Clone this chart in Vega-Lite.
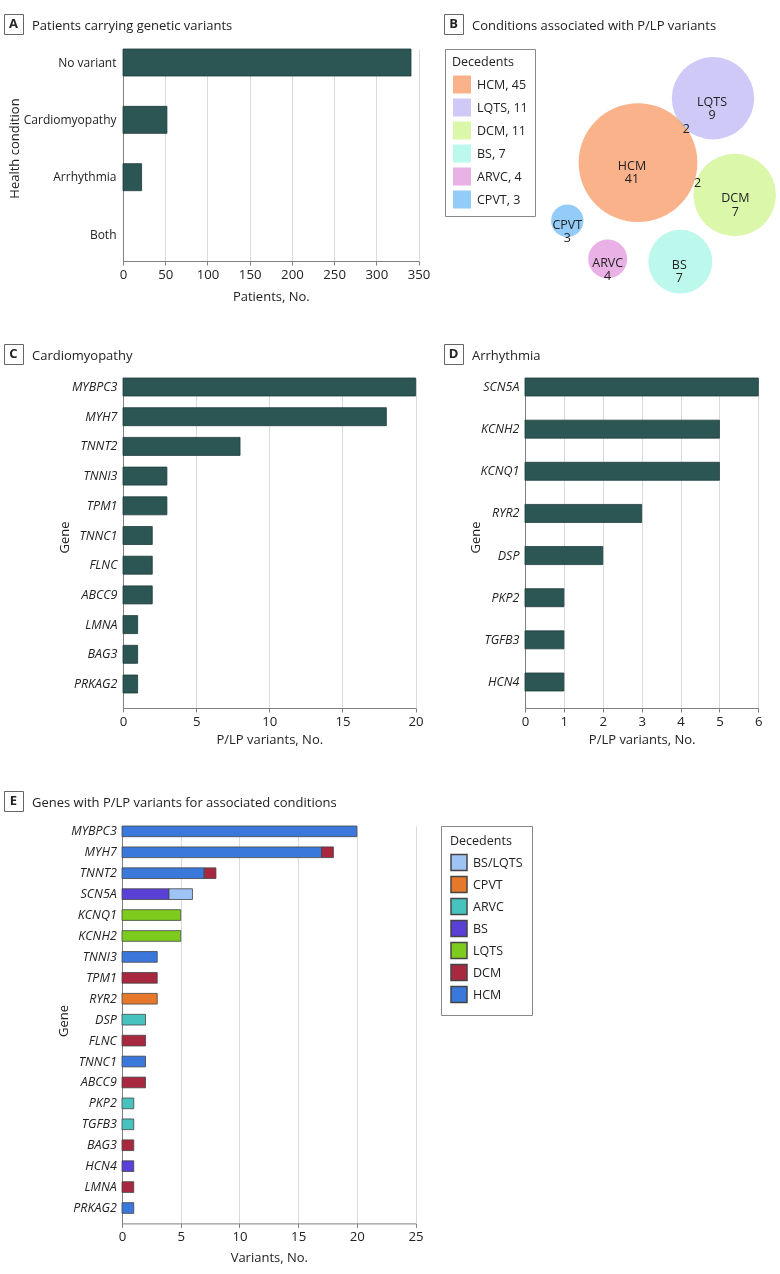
{
  "$schema": "https://vega.github.io/schema/vega-lite/v6.json",
  "padding": {"left": 3, "top": 13, "right": 0, "bottom": 4},
  "background": "white",
  "spacing": 10,
  "resolve": {"scale": {"color": "independent", "size": "independent"}, "legend": {"color": "independent", "size": "independent"}},
  "config": {
    "font": "Open Sans",
    "view": {"stroke": null},
    "axis": {
      "labelFont": "Open Sans", "titleFont": "Open Sans",
      "labelFontSize": 13.2, "titleFontSize": 13, "titleFontWeight": "normal",
      "labelColor": "#222", "titleColor": "#222",
      "domainColor": "#808080", "tickColor": "#808080", "gridColor": "#dadada",
      "labelFlush": false, "labelOverlap": false
    },
    "legend": {
      "labelFont": "Open Sans", "titleFont": "Open Sans",
      "labelFontSize": 12.5, "titleFontSize": 12.5, "titleFontWeight": "normal",
      "labelColor": "#222", "titleColor": "#222",
      "strokeColor": "#888", "fillColor": "white", "symbolType": "square"
    },
    "title": {"font": "Open Sans", "color": "#222", "fontWeight": "normal"}
  },
  "datasets": {
    "patients": [
      {"condition": "No variant", "patients": 341},
      {"condition": "Cardiomyopathy", "patients": 52},
      {"condition": "Arrhythmia", "patients": 22},
      {"condition": "Both", "patients": 0}
    ],
    "bubbles": [
      {"decedents": "HCM, 45", "total": 45, "cx": 193, "cy": 113.7, "label": "HCM\n41", "lx": 187, "ly": 116.7},
      {"decedents": "LQTS, 11", "total": 11, "cx": 268, "cy": 49.3, "label": "LQTS\n9", "lx": 267, "ly": 52.7},
      {"decedents": "DCM, 11", "total": 11, "cx": 289.7, "cy": 146, "label": "DCM\n7", "lx": 290.3, "ly": 149},
      {"decedents": "BS, 7", "total": 7, "cx": 235.3, "cy": 212.7, "label": "BS\n7", "lx": 234.3, "ly": 215.5},
      {"decedents": "ARVC, 4", "total": 4, "cx": 162.7, "cy": 210, "label": "ARVC\n4", "lx": 162.7, "ly": 213.7},
      {"decedents": "CPVT, 3", "total": 3, "cx": 122.3, "cy": 171.7, "label": "CPVT\n3", "lx": 122.3, "ly": 175.8}
    ],
    "overlaps": [
      {"n": "2", "x": 241.3, "y": 80.3},
      {"n": "2", "x": 252.7, "y": 133.7}
    ],
    "cardio": [
      {"gene": "MYBPC3", "n": 20}, {"gene": "MYH7", "n": 18}, {"gene": "TNNT2", "n": 8},
      {"gene": "TNNI3", "n": 3}, {"gene": "TPM1", "n": 3}, {"gene": "TNNC1", "n": 2},
      {"gene": "FLNC", "n": 2}, {"gene": "ABCC9", "n": 2}, {"gene": "LMNA", "n": 1},
      {"gene": "BAG3", "n": 1}, {"gene": "PRKAG2", "n": 1}
    ],
    "arrhythmia": [
      {"gene": "SCN5A", "n": 6}, {"gene": "KCNH2", "n": 5}, {"gene": "KCNQ1", "n": 5},
      {"gene": "RYR2", "n": 3}, {"gene": "DSP", "n": 2}, {"gene": "PKP2", "n": 1},
      {"gene": "TGFB3", "n": 1}, {"gene": "HCN4", "n": 1}
    ],
    "genes": [
      {"gene": "MYBPC3", "condition": "HCM", "variants": 20},
      {"gene": "MYH7", "condition": "HCM", "variants": 17},
      {"gene": "MYH7", "condition": "DCM", "variants": 1},
      {"gene": "TNNT2", "condition": "HCM", "variants": 7},
      {"gene": "TNNT2", "condition": "DCM", "variants": 1},
      {"gene": "SCN5A", "condition": "BS", "variants": 4},
      {"gene": "SCN5A", "condition": "BS/LQTS", "variants": 2},
      {"gene": "KCNQ1", "condition": "LQTS", "variants": 5},
      {"gene": "KCNH2", "condition": "LQTS", "variants": 5},
      {"gene": "TNNI3", "condition": "HCM", "variants": 3},
      {"gene": "TPM1", "condition": "DCM", "variants": 3},
      {"gene": "RYR2", "condition": "CPVT", "variants": 3},
      {"gene": "DSP", "condition": "ARVC", "variants": 2},
      {"gene": "FLNC", "condition": "DCM", "variants": 2},
      {"gene": "TNNC1", "condition": "HCM", "variants": 2},
      {"gene": "ABCC9", "condition": "DCM", "variants": 2},
      {"gene": "PKP2", "condition": "ARVC", "variants": 1},
      {"gene": "TGFB3", "condition": "ARVC", "variants": 1},
      {"gene": "BAG3", "condition": "DCM", "variants": 1},
      {"gene": "HCN4", "condition": "BS", "variants": 1},
      {"gene": "LMNA", "condition": "DCM", "variants": 1},
      {"gene": "PRKAG2", "condition": "HCM", "variants": 1}
    ]
  },
  "vconcat": [
    {
      "hconcat": [
        {
          "width": 19, "height": 20,
          "view": {"stroke": "#666", "strokeWidth": 1},
          "data": {"values": [{"letter": "A"}]},
          "mark": {"type": "text", "fontWeight": "bold", "fontSize": 13, "color": "#222"},
          "encoding": {"text": {"field": "letter"}},
          "title": {"text": "Patients carrying genetic variants", "orient": "top", "anchor": "start", "frame": "group", "align": "left", "baseline": "middle", "offset": 0, "dx": 28, "dy": 24.5, "fontSize": 13}
        },
        {"width": 421, "height": 22, "data": {"values": [{}]}, "mark": {"type": "point", "opacity": 0}},
        {
          "width": 19, "height": 20,
          "view": {"stroke": "#666", "strokeWidth": 1},
          "data": {"values": [{"letter": "B"}]},
          "mark": {"type": "text", "fontWeight": "bold", "fontSize": 13, "color": "#222"},
          "encoding": {"text": {"field": "letter"}},
          "title": {"text": "Conditions associated with P/LP variants", "orient": "top", "anchor": "start", "frame": "group", "align": "left", "baseline": "middle", "offset": 0, "dx": 28, "dy": 24.5, "fontSize": 13}
        }
      ],
      "spacing": 0, "bounds": "flush"
    },
    {
      "hconcat": [
        {"width": 118.7, "height": 284, "data": {"values": [{}]}, "mark": {"type": "point", "opacity": 0}},
        {
          "width": 295.6, "height": 212,
          "data": {"name": "patients"},
          "mark": {"type": "bar", "fill": "#2c5654", "strokeWidth": 0.8},
          "encoding": {
            "stroke": {"condition": {"test": "datum.patients > 0", "value": "#1d3b3a"}, "value": null},
            "y": {"field": "condition", "type": "nominal", "sort": ["No variant", "Cardiomyopathy", "Arrhythmia", "Both"],
                  "scale": {"paddingInner": 0.529, "paddingOuter": 0.113, "align": 0},
                  "axis": {"title": "Health condition", "ticks": false, "labelPadding": 7, "labelFontSize": 12, "titleX": -104.4, "titleY": 99, "titleBaseline": "alphabetic"}},
            "x": {"field": "patients", "type": "quantitative", "scale": {"domain": [0, 350], "nice": false},
                  "axis": {"title": "Patients, No.", "values": [0, 50, 100, 150, 200, 250, 300, 350], "grid": true, "tickSize": 4, "labelPadding": 3, "titleY": 39, "titleBaseline": "alphabetic"}}
          }
        },
        {"width": 25.7, "height": 1, "data": {"values": [{}]}, "mark": {"type": "point", "opacity": 0}},
        {
          "width": 337, "height": 251,
          "layer": [
            {
              "data": {"name": "bubbles"},
              "mark": {"type": "circle", "opacity": 1, "blend": "darken"},
              "encoding": {
                "x": {"field": "cx", "type": "quantitative", "scale": {"domain": [0, 337], "nice": false, "zero": false}, "axis": null},
                "y": {"field": "cy", "type": "quantitative", "scale": {"domain": [0, 251], "reverse": true, "nice": false, "zero": false}, "axis": null},
                "size": {"field": "total", "type": "quantitative", "scale": {"type": "linear", "domain": [3, 4, 7, 11, 45], "range": [1052, 1521, 4072, 6793, 14103]}, "legend": null},
                "color": {"field": "decedents", "type": "nominal",
                          "scale": {"domain": ["HCM, 45", "LQTS, 11", "DCM, 11", "BS, 7", "ARVC, 4", "CPVT, 3"],
                                    "range": ["#fab28a", "#cfc9f8", "#daf7aa", "#bdf8ec", "#e9b1e6", "#94ccf9"]},
                          "legend": {"title": "Decedents", "orient": "top-left", "offset": 0, "padding": 7,
                                     "symbolSize": 324, "rowPadding": 4, "labelOffset": 5, "titlePadding": 6,
                                     "encode": {"symbols": {"update": {"stroke": {"value": "#555"}, "strokeWidth": {"value": 1}}}}}}
              }
            },
            {
              "data": {"name": "bubbles"},
              "mark": {"type": "text", "lineBreak": "\n", "fontSize": 12.5, "lineHeight": 13.5, "color": "#222"},
              "encoding": {
                "x": {"field": "lx", "type": "quantitative"},
                "y": {"field": "ly", "type": "quantitative"},
                "text": {"field": "label"}
              }
            },
            {
              "data": {"name": "overlaps"},
              "mark": {"type": "text", "fontSize": 12.5, "color": "#222"},
              "encoding": {
                "x": {"field": "x", "type": "quantitative"},
                "y": {"field": "y", "type": "quantitative"},
                "text": {"field": "n"}
              }
            }
          ]
        }
      ],
      "spacing": 0, "bounds": "flush",
      "resolve": {"scale": {"color": "independent", "size": "independent"}, "legend": {"color": "independent", "size": "independent"}}
    },
    {
      "hconcat": [
        {
          "width": 19, "height": 20,
          "view": {"stroke": "#666", "strokeWidth": 1},
          "data": {"values": [{"letter": "C"}]},
          "mark": {"type": "text", "fontWeight": "bold", "fontSize": 13, "color": "#222"},
          "encoding": {"text": {"field": "letter"}},
          "title": {"text": "Cardiomyopathy", "orient": "top", "anchor": "start", "frame": "group", "align": "left", "baseline": "middle", "offset": 0, "dx": 28, "dy": 24.5, "fontSize": 13}
        },
        {"width": 421, "height": 19, "data": {"values": [{}]}, "mark": {"type": "point", "opacity": 0}},
        {
          "width": 19, "height": 20,
          "view": {"stroke": "#666", "strokeWidth": 1},
          "data": {"values": [{"letter": "D"}]},
          "mark": {"type": "text", "fontWeight": "bold", "fontSize": 13, "color": "#222"},
          "encoding": {"text": {"field": "letter"}},
          "title": {"text": "Arrhythmia", "orient": "top", "anchor": "start", "frame": "group", "align": "left", "baseline": "middle", "offset": 0, "dx": 28, "dy": 24.5, "fontSize": 13}
        }
      ],
      "spacing": 0, "bounds": "flush"
    },
    {
      "hconcat": [
        {"width": 118.7, "height": 402, "data": {"values": [{}]}, "mark": {"type": "point", "opacity": 0}},
        {
          "width": 292.6, "height": 330,
          "data": {"name": "cardio"},
          "mark": {"type": "bar", "fill": "#2c5654", "stroke": "#1d3b3a", "strokeWidth": 0.8},
          "encoding": {
            "y": {"field": "gene", "type": "nominal",
                  "sort": ["MYBPC3", "MYH7", "TNNT2", "TNNI3", "TPM1", "TNNC1", "FLNC", "ABCC9", "LMNA", "BAG3", "PRKAG2"],
                  "scale": {"paddingInner": 0.394, "paddingOuter": 0.2525, "align": 0},
                  "axis": {"title": "Gene", "ticks": false, "labelPadding": 6, "labelFontSize": 12.5, "labelFontStyle": "italic", "titleX": -55, "titleY": 159, "titleBaseline": "alphabetic"}},
            "x": {"field": "n", "type": "quantitative", "scale": {"domain": [0, 20], "nice": false},
                  "axis": {"title": "P/LP variants, No.", "values": [0, 5, 10, 15, 20], "grid": true, "tickSize": 4, "labelPadding": 3, "titleY": 35, "titleBaseline": "alphabetic"}}
          }
        },
        {"width": 108.4, "height": 1, "data": {"values": [{}]}, "mark": {"type": "point", "opacity": 0}},
        {
          "width": 233.3, "height": 330,
          "data": {"name": "arrhythmia"},
          "mark": {"type": "bar", "fill": "#2c5654", "stroke": "#1d3b3a", "strokeWidth": 0.8},
          "encoding": {
            "y": {"field": "gene", "type": "nominal",
                  "sort": ["SCN5A", "KCNH2", "KCNQ1", "RYR2", "DSP", "PKP2", "TGFB3", "HCN4"],
                  "scale": {"paddingInner": 0.573, "paddingOuter": 0.2017, "align": 0},
                  "axis": {"title": "Gene", "ticks": false, "labelPadding": 6, "labelFontSize": 12.5, "labelFontStyle": "italic", "titleX": -46, "titleY": 159, "titleBaseline": "alphabetic"}},
            "x": {"field": "n", "type": "quantitative", "scale": {"domain": [0, 6], "nice": false},
                  "axis": {"title": "P/LP variants, No.", "values": [0, 1, 2, 3, 4, 5, 6], "grid": true, "tickSize": 4, "labelPadding": 3, "titleY": 35, "titleBaseline": "alphabetic"}}
          }
        }
      ],
      "spacing": 0, "bounds": "flush"
    },
    {
      "hconcat": [
        {
          "width": 19, "height": 20,
          "view": {"stroke": "#666", "strokeWidth": 1},
          "data": {"values": [{"letter": "E"}]},
          "mark": {"type": "text", "fontWeight": "bold", "fontSize": 13, "color": "#222"},
          "encoding": {"text": {"field": "letter"}},
          "title": {"text": "Genes with P/LP variants for associated conditions", "orient": "top", "anchor": "start", "frame": "group", "align": "left", "baseline": "middle", "offset": 0, "dx": 28, "dy": 24.5, "fontSize": 13}
        },
        {"width": 1, "height": 21.3, "data": {"values": [{}]}, "mark": {"type": "point", "opacity": 0}}
      ],
      "spacing": 0, "bounds": "flush"
    },
    {
      "hconcat": [
        {"width": 117.7, "height": 1, "data": {"values": [{}]}, "mark": {"type": "point", "opacity": 0}},
        {
          "width": 293.6, "height": 397.4,
          "data": {"name": "genes"},
          "mark": {"type": "bar", "stroke": "#444", "strokeWidth": 0.8},
          "encoding": {
            "y": {"field": "gene", "type": "nominal",
                  "sort": ["MYBPC3", "MYH7", "TNNT2", "SCN5A", "KCNQ1", "KCNH2", "TNNI3", "TPM1", "RYR2", "DSP", "FLNC", "TNNC1", "ABCC9", "PKP2", "TGFB3", "BAG3", "HCN4", "LMNA", "PRKAG2"],
                  "scale": {"paddingInner": 0.489, "paddingOuter": 0.24, "align": 0},
                  "axis": {"title": "Gene", "ticks": false, "labelPadding": 5.7, "labelFontSize": 12.5, "labelFontStyle": "italic", "titleX": -54.7, "titleY": 194.4, "titleBaseline": "alphabetic"}},
            "x": {"field": "variants", "type": "quantitative", "aggregate": "sum", "stack": "zero",
                  "scale": {"domain": [0, 25], "nice": false},
                  "axis": {"title": "Variants, No.", "values": [0, 5, 10, 15, 20, 25], "grid": true, "tickSize": 4, "labelPadding": 3, "titleY": 38, "titleBaseline": "alphabetic"}},
            "color": {"field": "condition", "type": "nominal",
                      "scale": {"domain": ["BS/LQTS", "CPVT", "ARVC", "BS", "LQTS", "DCM", "HCM"],
                                "range": ["#9ec3f5", "#e5782a", "#48c2bf", "#5a40d6", "#7ccb1e", "#a82840", "#3a78dc"]},
                      "legend": {"title": "Decedents", "orient": "right", "offset": 25, "padding": 9,
                                 "symbolSize": 256, "rowPadding": 0, "labelOffset": 5, "titlePadding": 6,
                                 "encode": {"symbols": {"update": {"stroke": {"value": "#444"}, "strokeWidth": {"value": 1}}}}}},
            "order": {"field": "variants", "type": "quantitative", "aggregate": "sum", "sort": "descending"}
          }
        }
      ],
      "spacing": 0, "bounds": "flush",
      "resolve": {"scale": {"color": "independent"}, "legend": {"color": "independent"}}
    }
  ]
}
